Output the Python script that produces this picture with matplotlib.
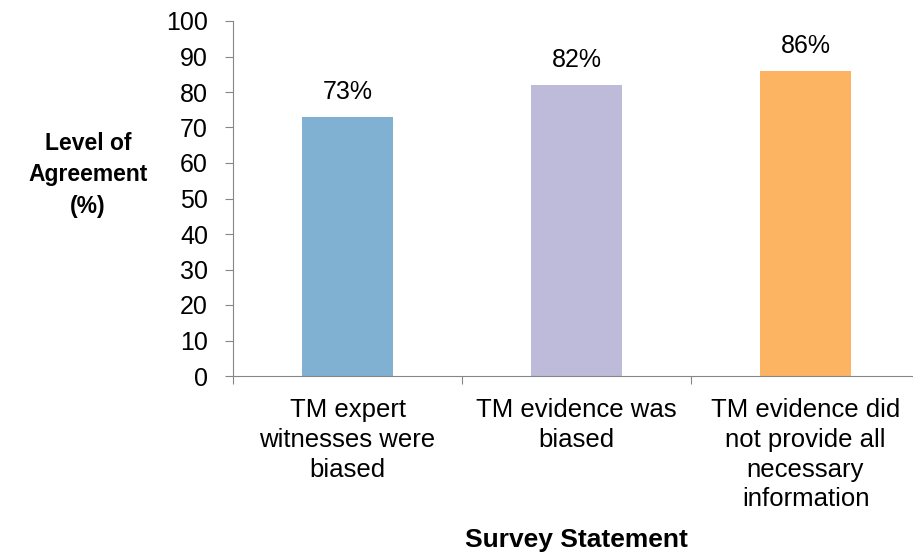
import numpy as np
import matplotlib
matplotlib.use("Agg")
import matplotlib.pyplot as plt

matplotlib.rc('font', family='Liberation Sans')
matplotlib.rcParams.update({'font.size': 18})

STATEMENTS = ["TM expert\nwitnesses were\nbiased",
              "TM evidence was\nbiased",
              "TM evidence did\nnot provide all\nnecessary\ninformation"]
AGREEMENT = [73, 82, 86]
COLORS = ["#80B1D3", "#BEBADA", "#FDB462"]

fig = plt.figure(figsize=(9.13, 5.56), dpi=100)
ax = fig.add_axes([233 / 913, 1 - 376 / 556, 687 / 913, 355 / 556])

ind = np.arange(len(STATEMENTS))
ax.bar(ind, AGREEMENT, 0.4, color=COLORS)

for i, v in enumerate(AGREEMENT):
    ax.annotate("%d%%" % v, (ind[i], v), xytext=(0, 9), textcoords="offset points",
                ha="center", va="bottom")

ax.set_xlim(-0.5, len(STATEMENTS) - 0.5)
ax.set_ylim(0, 100)
ax.set_yticks(range(0, 101, 10))

# category boundaries carry the ticks, labels sit in the middle
ax.set_xticks(np.arange(len(STATEMENTS) + 1) - 0.5)
ax.set_xticklabels([])
ax.set_xticks(ind, minor=True)
ax.set_xticklabels(STATEMENTS, minor=True, linespacing=1.3, va="top", fontsize=18.5)
ax.tick_params(axis="x", which="minor", length=0, pad=16)
ax.tick_params(axis="x", which="major", length=6, color="#868686")
ax.tick_params(axis="y", length=6, color="#868686", pad=12)

for side in ("top", "right"):
    ax.spines[side].set_visible(False)
for side in ("left", "bottom"):
    ax.spines[side].set_color("#868686")

fig.text(88 / 913, 1 - 175 / 556, "Level of\nAgreement\n(%)", ha="center", va="center",
         fontweight="bold", fontsize=16.5, linespacing=1.5)
fig.text(576 / 913, 1 - 540 / 556, "Survey Statement", ha="center", va="center",
         fontweight="bold", fontsize=19)

fig.savefig("out.png", dpi=100)
plt.close()
